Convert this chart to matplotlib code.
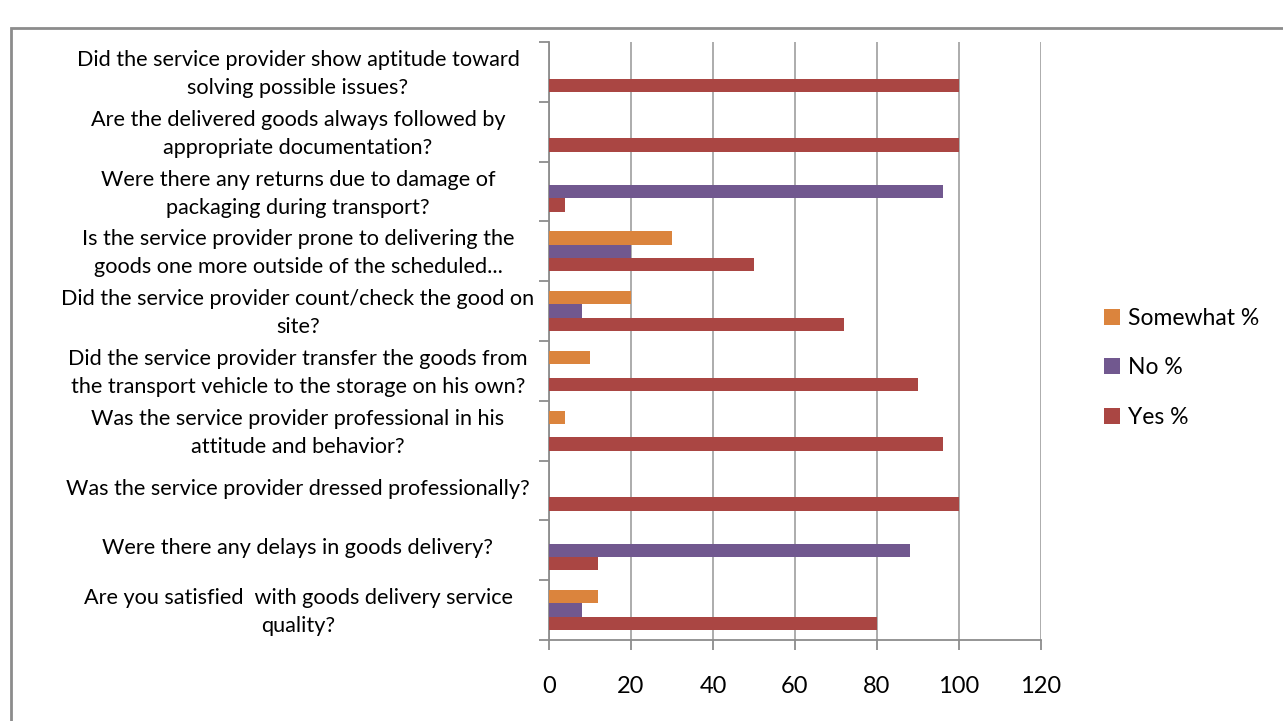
import matplotlib
matplotlib.use("Agg")
import matplotlib.pyplot as plt
import numpy as np
from matplotlib.patches import Rectangle
from matplotlib.ticker import MultipleLocator, FixedLocator
from matplotlib.transforms import blended_transform_factory, ScaledTranslation

plt.rcParams['font.family'] = ['Lato', 'DejaVu Sans']

categories = [
    "Are you satisfied  with goods delivery service\nquality?",
    "Were there any delays in goods delivery?",
    "Was the service provider dressed professionally?",
    "Was the service provider professional in his\nattitude and behavior?",
    "Did the service provider transfer the goods from\nthe transport vehicle to the storage on his own?",
    "Did the service provider count/check the good on\nsite?",
    "Is the service provider prone to delivering the\ngoods one more outside of the scheduled...",
    "Were there any returns due to damage of\npackaging during transport?",
    "Are the delivered goods always followed by\nappropriate documentation?",
    "Did the service provider show aptitude toward\nsolving possible issues?",
]
somewhat = [12, 0, 0, 4, 10, 20, 30, 0, 0, 0]
no = [8, 88, 0, 0, 0, 8, 20, 96, 0, 0]
yes = [80, 12, 100, 96, 90, 72, 50, 4, 100, 100]
series_names = ["Somewhat %", "No %", "Yes %"]
colors = ["#DB843D", "#71588F", "#AA4643"]

W, H = 1283, 721
fig = plt.figure(figsize=(W / 100, H / 100), dpi=100)
ax = fig.add_axes([549 / W, 1 - 640 / H, (1041 - 549) / W, (640 - 42) / H])

y = np.arange(len(categories))
h = 0.225
ax.barh(y + h, somewhat, height=h, color=colors[0], linewidth=0, label=series_names[0], zorder=3)
ax.barh(y, no, height=h, color=colors[1], linewidth=0, label=series_names[1], zorder=3)
ax.barh(y - h, yes, height=h, color=colors[2], linewidth=0, label=series_names[2], zorder=3)

ax.set_xlim(0, 120)
ax.set_ylim(-0.5, len(categories) - 0.5)
ax.xaxis.set_major_locator(MultipleLocator(20))
ax.grid(axis="x", color="#A6A6A6", linewidth=1.3, zorder=0)
ax.set_axisbelow(True)

ax.set_yticks(y)
ax.set_yticklabels(categories, fontsize=15.6, linespacing=1.5)
ax.yaxis.set_minor_locator(FixedLocator(np.arange(-0.5, len(categories), 1.0)))
ax.tick_params(axis="y", which="major", length=0, pad=0)
ax.tick_params(axis="y", which="minor", length=7, width=1.3, color="#8C8C8C")
ax.tick_params(axis="x", which="major", length=7, width=1.3, color="#8C8C8C", labelsize=17, pad=19)
shift = ScaledTranslation(0, 4 / 100, fig.dpi_scale_trans)
for lab in ax.get_yticklabels():
    lab.set_horizontalalignment("center")
    lab.set_transform(blended_transform_factory(fig.transFigure, ax.transData) + shift)
    lab.set_x(298 / W)

for s in ["top", "right"]:
    ax.spines[s].set_visible(False)
for s in ["left", "bottom"]:
    ax.spines[s].set_color("#8C8C8C")
    ax.spines[s].set_linewidth(1.3)

handles, labels = ax.get_legend_handles_labels()
fig.legend(handles, labels, loc="center left", bbox_to_anchor=(1104 / W, 1 - 368 / H),
           frameon=False, fontsize=16.5, handlelength=0.7, handleheight=0.7,
           handletextpad=0.35, labelspacing=1.25, borderpad=0, borderaxespad=0)

fig.patches.append(Rectangle((11 / W, -0.1), 1.2, 1 - 28 / H + 0.1, transform=fig.transFigure,
                             fill=False, edgecolor="#8C8C8C", linewidth=2))

fig.savefig("out.png", dpi=100)
